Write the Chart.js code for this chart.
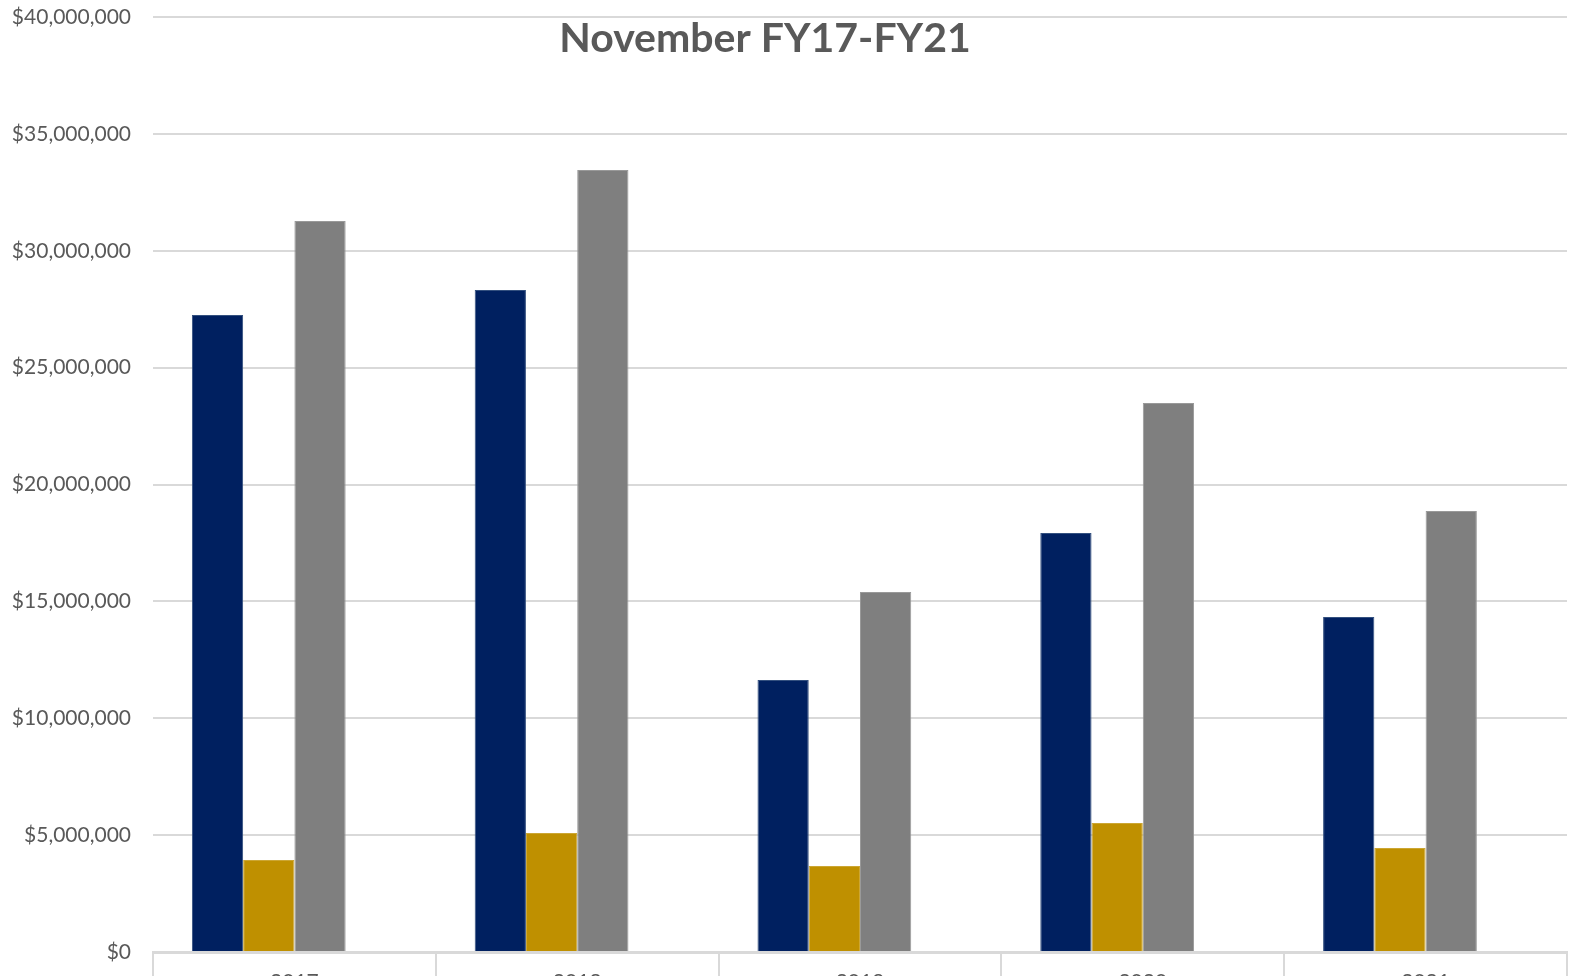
<!DOCTYPE html>
<html>
<head>
<meta charset="utf-8">
<script src="https://cdn.jsdelivr.net/npm/chart.js@4/dist/chart.umd.min.js"></script>
<style>
  html, body { margin: 0; padding: 0; background: #fff; overflow: hidden; }
  #chart { display: block; }
</style>
</head>
<body>
<canvas id="chart" width="1587" height="1010"></canvas>
<script>
// values
const years = ['2017', '2018', '2019', '2020', '2021']
const seriesA = [27250000, 28320000, 11640000, 17930000, 14330000]
const seriesB = [3940000, 5090000, 3680000, 5520000, 4450000]
const seriesC = [31270000, 33450000, 15400000, 23490000, 18870000]
// the reference leaves an empty fourth slot in every group
const seriesD = [null, null, null, null, null]
const titleText = 'November FY17-FY21'

const FONT = 'Lato, "Open Sans", sans-serif'
const TEXT = '#595959'
const GRID = '#d9d9d9'

// title sits over the plot area in the reference, so draw it by hand
const overlayTitle = {
  id: 'overlayTitle',
  afterDraw(chart) {
    const ctx = chart.ctx
    ctx.save()
    ctx.font = 'bold 41px ' + FONT
    ctx.fillStyle = TEXT
    ctx.textAlign = 'center'
    ctx.textBaseline = 'middle'
    ctx.fillText(titleText, 765, 39)
    ctx.restore()
  }
}

const money = v => '$' + Number(v).toLocaleString('en-US')

new Chart(document.getElementById('chart'), {
  type: 'bar',
  data: {
    labels: years,
    datasets: [
      { label: 'A', data: seriesA, backgroundColor: '#002060', borderColor: '#33507f' },
      { label: 'B', data: seriesB, backgroundColor: '#bf9000', borderColor: '#cca633' },
      { label: 'C', data: seriesC, backgroundColor: '#7f7f7f', borderColor: '#999999' },
      { label: 'D', data: seriesD, backgroundColor: '#4472c4' }
    ]
  },
  options: {
    responsive: false,
    animation: false,
    devicePixelRatio: 1,
    layout: { padding: { top: 17, right: 20, left: 0, bottom: 0 } },
    datasets: {
      bar: { barPercentage: 1, categoryPercentage: 0.725, borderWidth: 1 }
    },
    plugins: {
      legend: { display: false },
      title: { display: false },
      tooltip: { enabled: false }
    },
    scales: {
      x: {
        grid: { offset: true, drawOnChartArea: false, color: GRID, lineWidth: 2, tickLength: 28 },
        border: { display: true, color: GRID, width: 3 },
        ticks: { color: TEXT, font: { family: FONT, size: 21 }, padding: -10 },
        afterFit(scale) { scale.height = 58 }
      },
      y: {
        min: 0,
        max: 40000000,
        ticks: { stepSize: 5000000, color: TEXT, font: { family: FONT, size: 21 }, padding: 0, callback: money },
        grid: { color: GRID, lineWidth: 2, drawTicks: true, tickLength: 22, tickColor: 'rgba(0,0,0,0)' },
        border: { display: false },
        afterFit(scale) { scale.width = 153 }
      }
    }
  },
  plugins: [overlayTitle]
})
</script>
</body>
</html>
